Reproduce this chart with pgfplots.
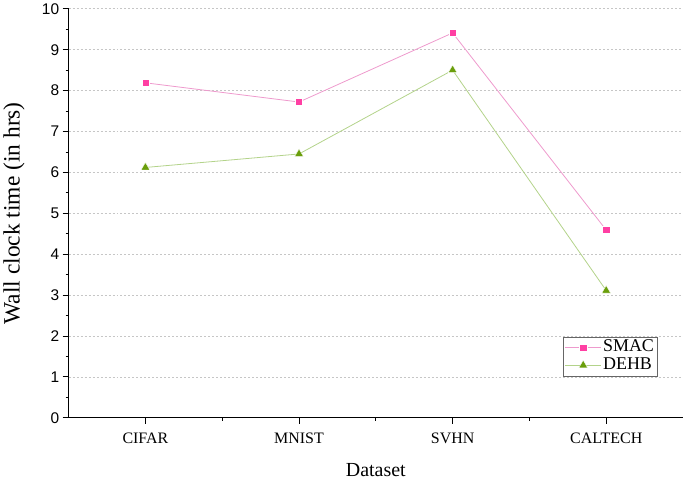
\documentclass[border=0pt]{standalone}
\usepackage{fontspec}
\setmainfont{Liberation Serif}
\setsansfont{Liberation Sans}
\usepackage{pgfplots}
\pgfplotsset{compat=1.18}
\definecolor{smacmk}{HTML}{FF3FA3}
\definecolor{smacln}{HTML}{EE9ACD}
\definecolor{dehbmk}{HTML}{6A9E0B}
\definecolor{dehbln}{HTML}{B3D38A}
\begin{document}
\begin{tikzpicture}[x=1pt,y=1pt]
\begin{axis}[
  at={(0,0)}, anchor=south west,
  scale only axis, width=616pt, height=410pt,
  xmin=-0.5, xmax=3.5, ymin=0, ymax=10,
  axis x line*=bottom, axis y line*=left,
  axis line style={line width=0.9pt, black},
  tick align=outside,
  major tick length=6pt, minor tick length=3pt,
  tick style={line width=0.8pt, black},
  xtick={0,1,2,3},
  xticklabels={CIFAR,MNIST,SVHN,CALTECH},
  minor xtick={0.5,1.5,2.5},
  ytick={0,1,...,10},
  minor ytick={0.5,1.5,...,9.5},
  /pgf/number format/assume math mode=true,
  yticklabel style={font=\sffamily\fontsize{15.5}{18}\selectfont},
  xticklabel style={font=\fontsize{16}{19}\selectfont, yshift=-6pt},
  ymajorgrids,
  grid style={gray!45, dash pattern=on 2pt off 2pt, line width=0.6pt},
  xlabel={Dataset},
  ylabel={Wall clock time (in hrs)},
  xlabel style={font=\fontsize{20}{24}\selectfont, at={(axis description cs:0.5,-0.129)}, anchor=center},
  ylabel style={font=\fontsize{23.5}{28}\selectfont, at={(axis description cs:-0.089,0.5)}, anchor=center},
  legend style={at={(0.958,0.102)}, anchor=south east, draw=gray!80!black, line width=0.5pt,
    font=\fontsize{18}{20}\selectfont, inner sep=1.5pt, row sep=0pt,
    nodes={inner sep=1.5pt, text height=12pt, text depth=3pt}},
  legend image code/.code={
    \draw[mark repeat=2, mark phase=2] plot coordinates {(0pt,0pt) (18pt,0pt) (36pt,0pt)};
  },
  legend cell align=left,
  clip=false,
]
\addplot[color=smacln, line width=0.8pt, mark=square*, mark size=3.6pt,
  mark options={fill=smacmk, draw=white, line width=0.3pt}]
  coordinates {(0,8.19) (1,7.72) (2,9.41) (3,4.59)};
\addlegendentry{SMAC}
\addplot[color=dehbln, line width=0.8pt, mark=triangle*, mark size=5pt,
  mark options={fill=dehbmk, draw=white, line width=0.3pt}]
  coordinates {(0,6.12) (1,6.45) (2,8.50) (3,3.11)};
\addlegendentry{DEHB}
\end{axis}
\path (-67pt,-62pt) rectangle (618pt,418pt);
\end{tikzpicture}
\end{document}
